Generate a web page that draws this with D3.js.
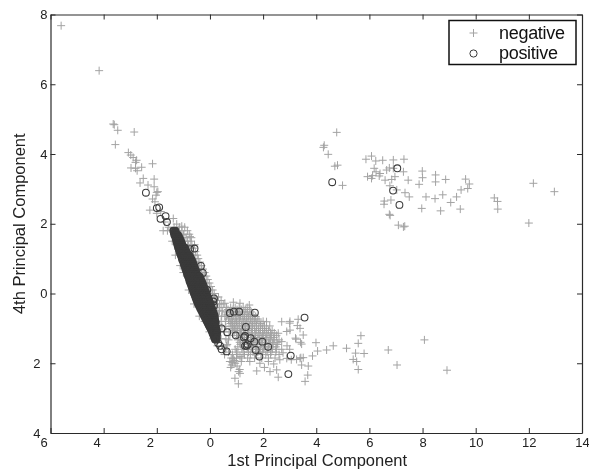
<!DOCTYPE html>
<html lang="en">
<head>
    <meta charset="UTF-8">
    <title>Principal Components</title>
    <script src="https://d3js.org/d3.v7.min.js"></script>
    <style>
        body { margin: 0; background: #fff; }
        svg { filter: blur(0.3px); }
        text { font-family: "Liberation Sans", Arial, sans-serif; fill: #222; }
        .tick text { font-size: 13px; }
        .axis-label { font-size: 16.5px; }
        .legend-label { font-size: 18px; letter-spacing: -0.3px; fill: #111; }
    </style>
</head>
<body>
    <div id="plot"></div>
    <script>
        // tick values, labels on the chart drop the minus sign
        const xTicks = [-6, -4, -2, 0, 2, 4, 6, 8, 10, 12, 14];
        const yTicks = [-4, -2, 0, 2, 4, 6, 8];

        // negative class
        const negativeFar = [[-5.6,7.68],[-4.17,6.39],[-3.64,4.86],[-3.6,4.84],[-3.47,4.68],[-2.85,4.63],[-3.56,4.27],[-3.07,4.04],[-2.98,3.97],[-2.89,3.9],[-2.76,3.82],[-2.8,3.76],[-2.16,3.72],[-2.97,3.6],[-2.8,3.59],[-2.57,3.62],[-2.74,3.52],[-2.51,3.3],[-2.1,3.28],[-2.63,3.17],[-2.33,3.11],[-2.1,3.06],[-2.0,2.9],[-1.96,2.92],[-2.03,2.82],[-2.16,2.71],[-2.07,2.63],[-2.26,2.39],[-2.0,2.3],[-1.38,2.15],[-1.25,1.99],[-1.06,1.93],[-1.76,1.8],[-1.0,1.68],[-0.75,1.63],[-1.85,2.35],[-1.7,2.05],[-1.55,1.9]];
        const negativeRight = [[4.77,4.62],[4.3,4.25],[4.27,4.19],[4.45,3.99],[4.7,3.65],[4.8,3.68],[4.99,3.1],[5.87,3.85],[6.08,3.94],[6.24,3.8],[6.5,3.82],[6.9,3.83],[7.3,3.85],[6.18,3.59],[6.25,3.49],[6.4,3.44],[6.65,3.54],[6.75,3.6],[6.9,3.59],[7.28,3.49],[5.93,3.35],[6.08,3.3],[6.12,3.38],[6.37,3.37],[6.59,3.25],[6.84,3.27],[6.96,3.35],[7.46,3.25],[7.99,3.51],[8.0,3.32],[7.87,3.13],[8.49,3.4],[8.49,3.2],[8.87,3.27],[9.62,3.28],[9.76,3.14],[9.7,3.01],[9.45,2.97],[6.77,3.09],[7.03,2.97],[7.34,2.89],[7.5,2.77],[6.56,2.65],[6.81,2.68],[6.55,2.56],[8.13,2.77],[8.47,2.72],[8.76,2.83],[9.28,2.77],[9.06,2.61],[6.75,2.27],[6.78,2.24],[7.97,2.44],[8.68,2.37],[9.42,2.42],[10.7,2.74],[10.82,2.64],[10.83,2.42],[12.17,3.16],[12.96,2.92],[12.0,2.02],[7.09,1.96],[7.28,1.91],[7.33,1.93]];
        const negativeLower = [[3.32,-0.74],[3.29,-0.92],[3.39,-1.0],[3.51,-1.19],[3.01,-0.8],[3.01,-1.05],[3.22,-1.28],[3.45,-1.45],[3.41,-1.4],[3.99,-1.41],[4.05,-1.65],[4.39,-1.62],[4.64,-1.5],[3.86,-1.79],[3.51,-1.84],[3.42,-1.84],[3.26,-1.89],[3.45,-2.05],[3.7,-2.08],[3.68,-2.34],[3.58,-2.52],[5.14,-1.57],[5.68,-1.21],[5.58,-1.43],[5.48,-1.71],[5.8,-1.72],[5.39,-1.89],[5.52,-1.95],[5.58,-2.18],[6.71,-1.62],[7.04,-2.05],[8.07,-1.33],[8.92,-2.2],[3.0,-1.6],[3.06,-1.9],[2.13,-0.81],[2.7,-0.81],[3.0,-0.85],[2.89,-1.09],[2.57,-1.14],[3.24,-1.31],[2.7,-1.38],[3.39,-1.86],[2.89,-1.86],[2.63,-1.9],[2.51,-2.19],[2.26,-2.24],[2.57,-2.4],[1.76,-2.22],[0.82,-2.05],[0.78,-2.12],[1.13,-2.29],[1.08,-2.24],[0.94,-2.43],[1.07,-2.59],[1.13,-1.81],[0.88,-1.86],[1.18,-1.95],[0.85,-1.98],[1.5,-1.95],[1.88,-2.0],[2.2,-1.95],[0.56,-0.28],[0.88,-0.25],[1.13,-0.28],[1.48,-0.33],[0.95,-2.0],[0.92,-1.92],[1.02,-2.08],[0.75,-1.95],[1.12,-2.18],[2.05,-2.12],[2.4,-2.02],[2.75,-1.7],[2.9,-1.5]];

        // solid gray patch right of the stripe, one list of x per y row
        const negativeDenseY = [-0.4, -0.46, -0.53, -0.6, -0.66, -0.73, -0.8, -0.86, -0.93, -1.0, -1.06, -1.13, -1.2, -1.26, -1.33, -1.4, -1.46, -1.53, -1.6, -1.68, -1.75, -1.85];
        const negativeDenseX = [
            [0.62, 0.78, 0.95, 1.1, 1.25, 1.4],
            [0.68, 0.87, 1.02, 1.18, 1.33, 1.5],
            [0.6, 0.74, 0.85, 1.0, 1.12, 1.28, 1.42, 1.55],
            [0.66, 0.8, 0.94, 1.07, 1.21, 1.36, 1.5, 1.62],
            [0.62, 0.75, 0.88, 1.02, 1.15, 1.3, 1.45, 1.6, 1.72],
            [0.7, 0.82, 0.97, 1.11, 1.24, 1.38, 1.53, 1.67, 1.8],
            [0.72, 0.85, 1.0, 1.12, 1.27, 1.4, 1.55, 1.7, 1.85, 2.0],
            [0.78, 0.93, 1.06, 1.2, 1.33, 1.47, 1.62, 1.76, 1.92],
            [0.8, 0.9, 1.02, 1.18, 1.32, 1.48, 1.6, 1.75, 1.9, 2.05, 2.25],
            [0.85, 0.97, 1.12, 1.25, 1.4, 1.55, 1.68, 1.83, 1.98, 2.12],
            [0.92, 1.05, 1.19, 1.33, 1.47, 1.6, 1.76, 1.9, 2.05, 2.2, 2.34],
            [0.9, 1.02, 1.15, 1.28, 1.42, 1.56, 1.7, 1.84, 1.98, 2.12, 2.28, 2.42],
            [0.75, 1.0, 1.15, 1.3, 1.45, 1.6, 1.72, 1.88, 2.02, 2.18, 2.32, 2.5],
            [1.08, 1.22, 1.37, 1.52, 1.66, 1.8, 1.95, 2.1, 2.25, 2.4],
            [0.7, 1.05, 1.22, 1.38, 1.55, 1.7, 1.85, 1.98, 2.12, 2.28, 2.42, 2.6],
            [1.12, 1.28, 1.45, 1.6, 1.76, 1.92, 2.06, 2.2, 2.36, 2.52],
            [0.65, 1.15, 1.3, 1.48, 1.65, 1.8, 1.95, 2.1, 2.25, 2.38, 2.55],
            [1.05, 1.25, 1.42, 1.58, 1.75, 1.9, 2.04, 2.2, 2.33, 2.48],
            [0.6, 0.95, 1.2, 1.4, 1.55, 1.72, 1.88, 2.02, 2.18, 2.35, 2.5, 2.7],
            [0.7, 1.0, 1.25, 1.45, 1.62, 1.8, 1.98, 2.15, 2.3, 2.48],
            [0.55, 0.85, 1.05, 1.3, 1.52, 1.72, 1.92, 2.1, 2.28, 2.6],
            [0.8, 1.0, 1.2, 1.42, 1.68, 1.95, 2.2, 2.45]
        ];

        // gray crosses packed along the stripe, one list of x per y row
        const negativeBandY = [1.9, 1.8, 1.7, 1.6, 1.5, 1.4, 1.3, 1.2, 1.1, 1.0, 0.9, 0.8, 0.7, 0.6, 0.5, 0.4, 0.3, 0.2, 0.1, 0, -0.1, -0.2, -0.3, -0.4, -0.5, -0.65, -0.8, -0.95, -1.1, -1.3, -1.5];
        const negativeBandX = [
            [-1.35, -1.15, -0.95],
            [-1.6, -1.2, -1.05, -0.85],
            [-1.25, -1.1, -0.98, -0.78],
            [-1.15, -1.02, -0.9, -0.7],
            [-1.42, -1.08, -0.96, -0.84, -0.72],
            [-1.05, -0.92, -0.8, -0.68, -0.58],
            [-0.98, -0.86, -0.75, -0.62],
            [-0.92, -0.8, -0.68, -0.55],
            [-1.3, -0.86, -0.74, -0.62, -0.48],
            [-0.8, -0.68, -0.56, -0.44],
            [-0.74, -0.62, -0.5, -0.38],
            [-1.12, -0.68, -0.55, -0.44, -0.32],
            [-0.62, -0.5, -0.38, -0.26],
            [-1.0, -0.56, -0.44, -0.32, -0.2],
            [-0.5, -0.38, -0.26, -0.14],
            [-0.44, -0.32, -0.2, -0.08],
            [-0.38, -0.26, -0.14, -0.02],
            [-0.32, -0.2, -0.08, 0.04],
            [-0.8, -0.26, -0.14, -0.02, 0.1],
            [-0.2, -0.08, 0.04, 0.16],
            [-0.14, -0.02, 0.1, 0.22, 0.32],
            [-0.08, 0.04, 0.16, 0.28, 0.42],
            [-0.6, 0.0, 0.12, 0.24, 0.36, 0.5],
            [0.06, 0.18, 0.3, 0.42],
            [0.12, 0.24, 0.36, 0.48],
            [-0.4, 0.2, 0.32, 0.44, 0.56],
            [-0.2, 0.3, 0.42, 0.58],
            [0.3, 0.45, 0.6],
            [-0.02, 0.4, 0.55, 0.72],
            [0.12, 0.42, 0.6],
            [0.28, 0.45, 0.62]
        ];

        // positive class
        const positiveOther = [[-2.41,2.89],[-2.0,2.45],[-1.91,2.47],[-1.86,2.14],[-1.67,2.22],[-1.62,2.05],[-0.75,1.27],[-0.58,1.29],[-0.34,0.79],[-0.27,0.59],[-0.1,0.1],[0.15,-0.14],[0.13,-0.23],[0.15,-0.35],[0.75,-0.56],[0.9,-0.52],[1.1,-0.52],[1.69,-0.55],[1.35,-0.96],[0.44,-1.0],[0.65,-1.11],[0.97,-1.2],[1.32,-1.22],[1.28,-1.26],[1.53,-1.28],[1.67,-1.38],[1.97,-1.38],[2.19,-1.53],[1.32,-1.5],[1.38,-1.5],[1.42,-1.46],[1.72,-1.62],[1.86,-1.81],[3.04,-1.78],[2.95,-2.31],[0.31,-1.43],[0.44,-1.6],[0.63,-1.66],[0.38,-1.5],[3.56,-0.69],[4.6,3.19],[7.05,3.59],[6.89,2.95],[7.13,2.54]];

        // the solid dark stripe, one list of x per y row
        const positiveBandY = [1.8, 1.74, 1.68, 1.62, 1.56, 1.5, 1.44, 1.38, 1.32, 1.26, 1.2, 1.14, 1.08, 1.02, 0.96, 0.9, 0.84, 0.78, 0.72, 0.66, 0.6, 0.54, 0.48, 0.42, 0.36, 0.3, 0.24, 0.18, 0.12, 0.06, 0, -0.06, -0.12, -0.18, -0.24, -0.3, -0.36, -0.42, -0.48, -0.54, -0.6, -0.66, -0.72, -0.78, -0.84, -0.9, -0.96, -1.02, -1.08, -1.14, -1.2, -1.26, -1.32];
        const positiveBandX = [
            [-1.38, -1.3],
            [-1.36, -1.28],
            [-1.34, -1.26, -1.2],
            [-1.3, -1.22, -1.16],
            [-1.28, -1.2, -1.12],
            [-1.26, -1.18, -1.09],
            [-1.24, -1.15, -1.06],
            [-1.22, -1.12, -1.03],
            [-1.2, -1.1, -1.0, -0.95],
            [-1.17, -1.08, -0.98, -0.92],
            [-1.14, -1.05, -0.96, -0.88],
            [-1.12, -1.02, -0.92, -0.84],
            [-1.09, -1.0, -0.9, -0.82, -0.76],
            [-1.06, -0.96, -0.87, -0.79, -0.72],
            [-1.04, -0.94, -0.84, -0.75, -0.68],
            [-1.0, -0.91, -0.82, -0.73, -0.65],
            [-0.98, -0.88, -0.78, -0.69, -0.62],
            [-0.95, -0.85, -0.76, -0.66, -0.59],
            [-0.93, -0.83, -0.73, -0.64, -0.56],
            [-0.9, -0.8, -0.7, -0.61, -0.53],
            [-0.87, -0.78, -0.68, -0.58, -0.51],
            [-0.85, -0.75, -0.65, -0.55, -0.47],
            [-0.82, -0.72, -0.62, -0.52, -0.44, -0.38],
            [-0.79, -0.7, -0.6, -0.5, -0.41, -0.35],
            [-0.77, -0.67, -0.57, -0.47, -0.38, -0.32],
            [-0.74, -0.64, -0.54, -0.44, -0.35, -0.28],
            [-0.71, -0.61, -0.51, -0.41, -0.32, -0.25],
            [-0.68, -0.58, -0.48, -0.38, -0.29, -0.22],
            [-0.65, -0.55, -0.45, -0.35, -0.26, -0.19],
            [-0.63, -0.53, -0.43, -0.33, -0.23, -0.16],
            [-0.6, -0.5, -0.4, -0.3, -0.2, -0.13],
            [-0.57, -0.47, -0.37, -0.27, -0.17, -0.1],
            [-0.54, -0.44, -0.34, -0.24, -0.14, -0.07],
            [-0.51, -0.41, -0.31, -0.21, -0.11, -0.04],
            [-0.48, -0.38, -0.28, -0.18, -0.08, -0.01],
            [-0.45, -0.35, -0.25, -0.15, -0.05, 0.02],
            [-0.41, -0.31, -0.21, -0.11, -0.02, 0.05],
            [-0.37, -0.27, -0.17, -0.07, 0.01, 0.07],
            [-0.33, -0.23, -0.13, -0.03, 0.05, 0.1],
            [-0.29, -0.19, -0.09, 0.01, 0.08, 0.13],
            [-0.25, -0.15, -0.05, 0.05, 0.11, 0.16],
            [-0.21, -0.11, -0.01, 0.08, 0.14, 0.18],
            [-0.17, -0.07, 0.03, 0.11, 0.17],
            [-0.13, -0.03, 0.06, 0.14, 0.2],
            [-0.09, 0.0, 0.09, 0.17, 0.22],
            [-0.05, 0.04, 0.12, 0.19],
            [-0.01, 0.07, 0.15, 0.22],
            [0.03, 0.1, 0.17, 0.24],
            [0.07, 0.13, 0.2, 0.26],
            [0.1, 0.16, 0.22, 0.27],
            [0.13, 0.19, 0.25],
            [0.16, 0.21, 0.26],
            [0.19, 0.25]
        ];

        const expandRows = (ys, xs) => ys.flatMap((y, i) => xs[i].map(x => [x, y]));
        const negatives = negativeFar.concat(negativeRight, negativeLower,
            expandRows(negativeDenseY, negativeDenseX), expandRows(negativeBandY, negativeBandX));
        const positiveStripe = expandRows(positiveBandY, positiveBandX);

        const width = 589, height = 470;
        const margin = { top: 14.5, right: 7, bottom: 37, left: 50.5 };
        const grayCross = "#a3a3a3", darkCircle = "#3a3a3a", axisColor = "#2a2a2a";

        const svg = d3.select("#plot").append("svg")
            .attr("width", width).attr("height", height);

        const x = d3.scaleLinear().domain([-6, 14]).range([margin.left, width - margin.right]);
        const y = d3.scaleLinear().domain([-4, 8]).range([height - margin.bottom, margin.top]);

        // Crosses
        svg.append("g").selectAll("path")
            .data(negatives)
            .enter().append("path")
            .attr("d", "M-4,0H4M0,-4V4")
            .attr("transform", d => `translate(${x(d[0])},${y(d[1])})`)
            .attr("stroke", grayCross)
            .attr("stroke-width", 1)
            .attr("fill", "none");

        // Circles, the stripe is drawn heavier so that it closes up to solid
        svg.append("g").selectAll("circle")
            .data(positiveOther)
            .enter().append("circle")
            .attr("cx", d => x(d[0]))
            .attr("cy", d => y(d[1]))
            .attr("r", 3.4)
            .attr("fill", "none")
            .attr("stroke", darkCircle)
            .attr("stroke-width", 1.05);

        svg.append("g").selectAll("circle")
            .data(positiveStripe)
            .enter().append("circle")
            .attr("cx", d => x(d[0]))
            .attr("cy", d => y(d[1]))
            .attr("r", 3)
            .attr("fill", "none")
            .attr("stroke", darkCircle)
            .attr("stroke-width", 1.9);

        // Axes, ticks point inward on all four sides
        function styleAxis(g) {
            g.selectAll(".domain").attr("stroke", axisColor).attr("stroke-width", 1.2);
            g.selectAll(".tick line").attr("stroke", axisColor);
        }
        const plotW = width - margin.left - margin.right;
        const plotH = height - margin.top - margin.bottom;

        svg.append("g")
            .attr("transform", `translate(0,${height - margin.bottom})`)
            .call(d3.axisBottom(x).tickValues(xTicks).tickFormat(Math.abs).tickSizeInner(-5).tickSizeOuter(0).tickPadding(5))
            .call(styleAxis)
            .selectAll("text")
            .attr("dx", d => d < 0 ? -7 : 0)
            .attr("y", 5);

        svg.append("g")
            .attr("transform", `translate(${margin.left},0)`)
            .call(d3.axisLeft(y).tickValues(yTicks).tickFormat(Math.abs).tickSizeInner(-5).tickSizeOuter(0).tickPadding(3))
            .call(styleAxis)
            .selectAll("text")
            .attr("x", d => d < 0 ? -10 : -3);

        svg.append("g")
            .attr("transform", `translate(0,${margin.top})`)
            .call(d3.axisTop(x).tickValues(xTicks).tickFormat("").tickSizeInner(-5).tickSizeOuter(0))
            .call(styleAxis);

        svg.append("g")
            .attr("transform", `translate(${width - margin.right},0)`)
            .call(d3.axisRight(y).tickValues(yTicks).tickFormat("").tickSizeInner(-5).tickSizeOuter(0))
            .call(styleAxis);

        // Axis titles
        svg.append("text")
            .attr("class", "axis-label")
            .attr("x", margin.left + plotW / 2 + 1)
            .attr("y", 465.5)
            .attr("text-anchor", "middle")
            .text("1st Principal Component");

        svg.append("text")
            .attr("class", "axis-label")
            .attr("transform", `translate(25,${margin.top + plotH / 2}) rotate(-90)`)
            .attr("text-anchor", "middle")
            .text("4th Principal Component");

        // Legend
        const legend = svg.append("g");
        legend.append("rect")
            .attr("x", 449).attr("y", 20.5)
            .attr("width", 127).attr("height", 44)
            .attr("fill", "#fff")
            .attr("stroke", "#111")
            .attr("stroke-width", 1.5);
        legend.append("path")
            .attr("d", "M-4,0H4M0,-4V4")
            .attr("transform", "translate(473.5,33)")
            .attr("stroke", grayCross)
            .attr("fill", "none");
        legend.append("circle")
            .attr("cx", 473.5).attr("cy", 53.5).attr("r", 3.6)
            .attr("fill", "none").attr("stroke", darkCircle);
        legend.append("text").attr("class", "legend-label").attr("x", 499).attr("y", 39).text("negative");
        legend.append("text").attr("class", "legend-label").attr("x", 499).attr("y", 59).text("positive");
    </script>
</body>
</html>
